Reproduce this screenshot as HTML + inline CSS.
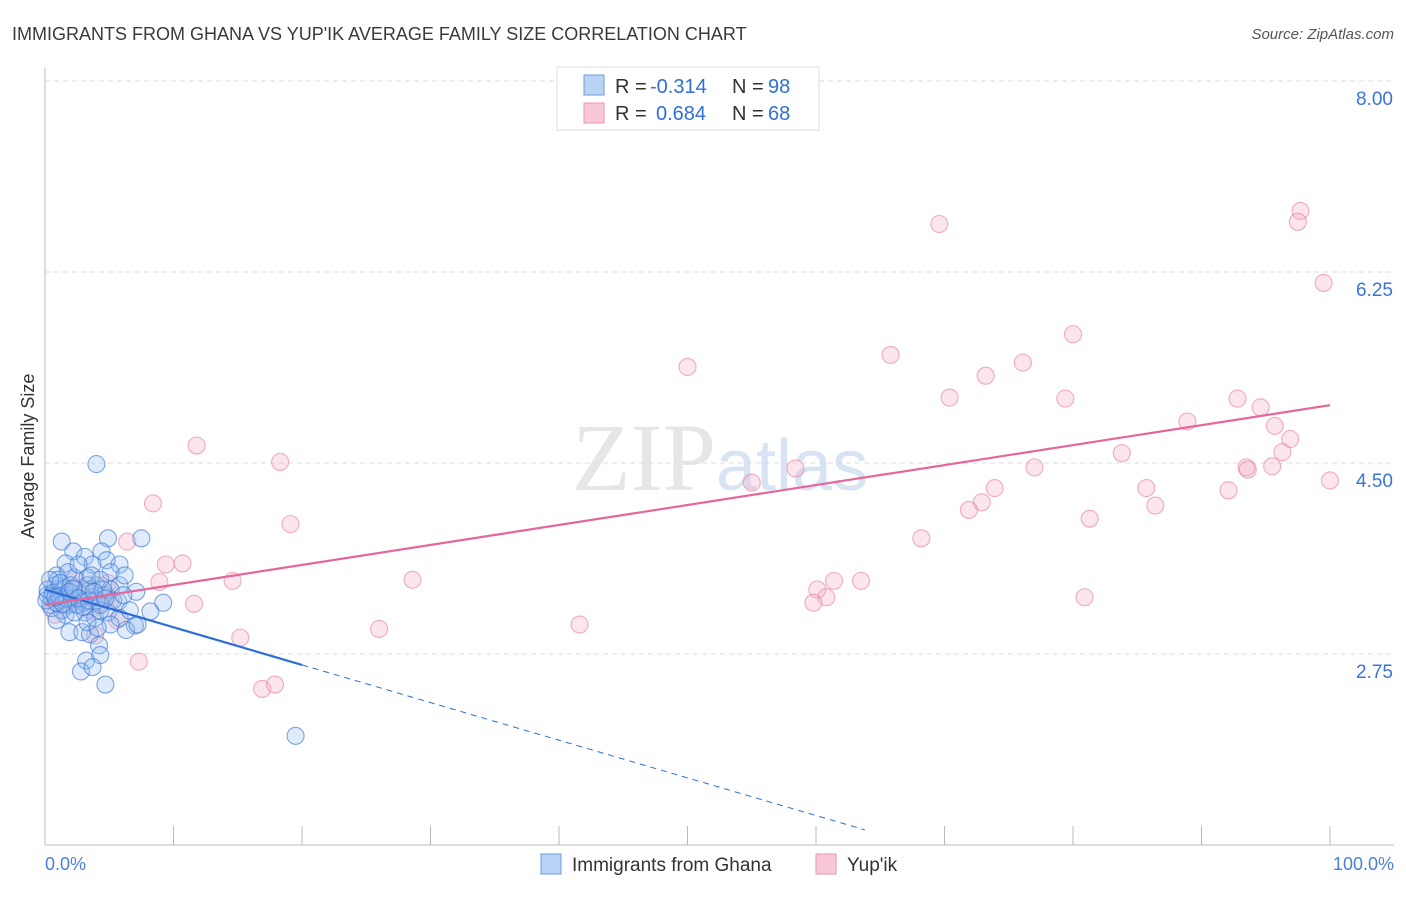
<!DOCTYPE html>
<html><head><meta charset="utf-8"><style>
body{margin:0;background:#fff;font-family:"Liberation Sans",sans-serif;}
</style></head><body>
<svg width="1406" height="892" xmlns="http://www.w3.org/2000/svg" style="font-family:'Liberation Sans',sans-serif">
<text x="12" y="40" font-size="18" fill="#3a3a3a">IMMIGRANTS FROM GHANA VS YUP'IK AVERAGE FAMILY SIZE CORRELATION CHART</text>
<text x="1394" y="39" font-size="15" fill="#555" font-style="italic" text-anchor="end">Source: ZipAtlas.com</text>
<text x="716" y="490" font-size="96" fill="#e6e6e6" text-anchor="end" font-family="Liberation Serif">ZIP</text>
<text x="716" y="490" font-size="72" fill="#d8e4f4">atlas</text>
<g id="grid"></g>
<line x1="45" y1="68" x2="45" y2="845" stroke="#bbb"/>
<line x1="45" y1="845" x2="1394" y2="845" stroke="#bbb"/>
<g id="ticks"></g>
<text x="45" y="870" font-size="18" fill="#4a7fd8">0.0%</text>
<text x="1394" y="870" font-size="18" fill="#4a7fd8" text-anchor="end">100.0%</text>
<text x="34" y="456" font-size="18" fill="#333" text-anchor="middle" transform="rotate(-90 34 456)">Average Family Size</text>
<g id="pts"></g>
<g id="lines"></g>
<g>
<rect x="557" y="67" width="262" height="63" fill="#fff" stroke="#ddd"/>
<rect x="584" y="75" width="20" height="20" fill="#b9d3f5" stroke="#6d9be0"/>
<rect x="584" y="103" width="20" height="20" fill="#f9c8d8" stroke="#eb93b1"/>
<text x="615" y="93" font-size="20" fill="#333">R =</text>
<text x="650" y="93" font-size="20" fill="#2f6fd6">-0.314</text>
<text x="732" y="93" font-size="20" fill="#333">N =</text>
<text x="768" y="93" font-size="20" fill="#2f6fd6">98</text>
<text x="615" y="120" font-size="20" fill="#333">R =</text>
<text x="656" y="120" font-size="20" fill="#2f6fd6">0.684</text>
<text x="732" y="120" font-size="20" fill="#333">N =</text>
<text x="768" y="120" font-size="20" fill="#2f6fd6">68</text>
</g>
<g>
<rect x="541" y="854" width="20" height="20" fill="#b9d3f5" stroke="#6d9be0"/>
<text x="572" y="871" font-size="19" fill="#333">Immigrants from Ghana</text>
<rect x="816" y="854" width="20" height="20" fill="#f9c8d8" stroke="#eb93b1"/>
<text x="847" y="871" font-size="19" fill="#333">Yup'ik</text>
</g>
</svg>
<script>
const yTicks=[8.00,6.25,4.50,2.75];
const yTickLabels=["8.00","6.25","4.50","2.75"];
const blueX=[4.0,1.3,7.5,4.9,2.2,4.4,4.8,3.1,1.6,3.7,5.8,5.1,0.9,2.3,3.3,4.0,5.8,7.1,1.0,1.6,0.5,1.9,2.7,3.7,4.6,5.7,9.2,8.2,7.0,6.3,7.2,1.9,2.9,3.5,4.2,3.2,4.3,2.8,3.7,4.7,19.5,0.4,0.8,1.2,2.3,3.1,3.9,1.6,4.3,5.1,6.2,0.2,0.5,1.0,1.8,2.6,3.5,4.3,1.3,2.1,3.0,4.0,4.9,5.8,6.6,0.9,1.5,2.3,3.3,5.1,4.1,0.1,0.2,0.4,0.6,0.9,1.2,1.7,2.0,2.5,2.8,3.3,3.6,4.5,5.3,6.1,1.1,1.4,1.9,2.2,2.6,3.0,3.4,3.8,4.3,4.7,0.8];
const blueY=[4.49,3.78,3.81,3.81,3.69,3.69,3.61,3.64,3.58,3.57,3.57,3.50,3.47,3.45,3.45,3.38,3.38,3.32,3.34,3.29,3.26,3.20,3.24,3.27,3.29,3.23,3.22,3.14,3.01,2.97,3.02,2.95,2.95,2.93,2.83,2.69,2.74,2.59,2.63,2.47,2.00,3.20,3.38,3.24,3.34,3.13,3.08,3.11,3.15,3.34,3.47,3.29,3.17,3.43,3.50,3.57,3.34,3.43,3.15,3.26,3.22,3.24,3.13,3.08,3.15,3.06,3.35,3.13,3.04,3.02,2.99,3.24,3.34,3.43,3.31,3.22,3.40,3.26,3.38,3.20,3.29,3.38,3.47,3.34,3.24,3.29,3.28,3.21,3.32,3.35,3.26,3.18,3.24,3.32,3.20,3.26,3.27];
const pinkX=[69.6,97.7,97.5,99.5,80.0,65.8,50.0,76.1,73.2,70.4,79.4,92.8,94.6,88.9,95.7,96.9,96.3,93.5,93.6,95.5,100.0,92.1,85.7,86.4,83.8,77.0,58.4,55.0,73.9,72.9,71.9,81.3,68.2,11.8,18.3,8.4,19.1,6.4,9.4,10.7,8.9,14.6,28.6,61.4,63.5,60.1,60.8,59.8,80.9,11.6,4.9,26.0,41.6,15.2,7.3,16.9,17.9,5.6,3.9,0.8,1.9,3.1,4.3,1.2,2.3,3.5,1.6,5.1];
const pinkY=[6.69,6.81,6.71,6.15,5.68,5.49,5.38,5.42,5.30,5.10,5.09,5.09,5.01,4.88,4.84,4.72,4.60,4.46,4.44,4.47,4.34,4.25,4.27,4.11,4.59,4.46,4.45,4.32,4.27,4.14,4.07,3.99,3.81,4.66,4.51,4.13,3.94,3.78,3.57,3.58,3.41,3.42,3.43,3.42,3.42,3.34,3.27,3.22,3.27,3.21,3.40,2.98,3.02,2.90,2.68,2.43,2.47,3.06,2.92,3.11,3.24,3.34,3.22,3.34,3.43,3.15,3.20,3.24];
const blueTrend=[3.34,-0.0345];
const pinkTrend=[3.20,0.0183];
const NS="http://www.w3.org/2000/svg";
const X=p=>45+p*12.85;
const Y=v=>654-(v-2.75)*109.14;
function mk(t,a,parent){const e=document.createElementNS(NS,t);for(const k in a)e.setAttribute(k,a[k]);document.getElementById(parent).appendChild(e);return e;}
yTicks.forEach((v,i)=>{
 const l=mk('line',{x1:45,x2:1394,y1:Y(v),y2:Y(v),stroke:'#ddd','stroke-dasharray':'5,4'},'grid');
 
 
 const t=mk('text',{x:1393,y:Y(v)+24,'font-size':19,fill:'#3b73d6','text-anchor':'end'},'grid');
 t.textContent=yTickLabels[i];
 
 
});
for(let p=10;p<=100;p+=10){
 const l=mk('line',{x1:X(p),x2:X(p),y1:826,y2:845,stroke:'#bbb'},'ticks');
 
 
}
pinkX.forEach((p,i)=>{
 const c=mk('circle',{cx:X(p),cy:Y(pinkY[i]),r:8.5,fill:'rgba(246,170,196,0.3)',stroke:'rgba(232,130,166,0.65)','stroke-width':1.1},'pts');
 
 
});
blueX.forEach((p,i)=>{
 const c=mk('circle',{cx:X(p),cy:Y(blueY[i]),r:8.5,fill:'rgba(150,190,240,0.3)',stroke:'rgba(60,120,215,0.65)','stroke-width':1.1},'pts');
 
 
});
const bv=p=>blueTrend[0]+blueTrend[1]*p;
let l1=mk('line',{x1:X(0),y1:Y(bv(0)),x2:X(20),y2:Y(bv(20)),stroke:'#2b6fd6','stroke-width':2.2},'lines');


let l2=mk('line',{x1:X(20),y1:Y(bv(20)),x2:X(63.8),y2:Y(bv(63.8)),stroke:'#2b6fd6','stroke-width':1,'stroke-dasharray':'6,5'},'lines');


const pv=p=>pinkTrend[0]+pinkTrend[1]*p;
let l3=mk('line',{x1:X(0),y1:Y(pv(0)),x2:X(100),y2:Y(pv(100)),stroke:'#e5679a','stroke-width':2.2},'lines');


</script>
</body></html>
